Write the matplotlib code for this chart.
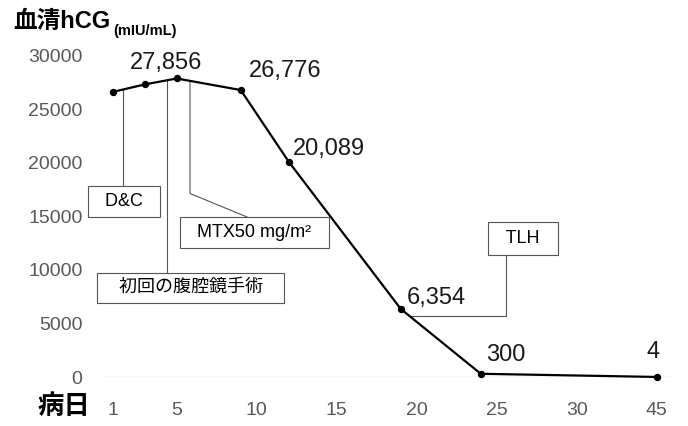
import numpy as np
import matplotlib.pyplot as plt

plt.rcParams['font.family'] = ['Liberation Sans', 'Noto Sans CJK JP', 'DejaVu Sans']

# hCG course; day 45 is drawn at position 35 on the axis
days = [1, 3, 5, 9, 12, 19, 24, 45]
hcg = [26600, 27300, 27856, 26776, 20089, 6354, 300, 4]
xpos = [1, 3, 5, 9, 12, 19, 24, 35]

tick_pos = [1, 5, 10, 15, 20, 25, 30, 35]
tick_labels = ['1', '5', '10', '15', '20', '25', '30', '45']

# labelled points
label_idx = [2, 3, 4, 5, 6, 7]
label_txt = ['27,856', '26,776', '20,089', '6,354', '300', '4']

# events marked on the curve
ev_text = ['D&C', '初回の腹腔鏡手術', 'MTX50 mg/m²', 'TLH']
ev_day = [1.64, 4.39, 5.83, 19.58]

fig = plt.figure(figsize=(6.88, 4.26), dpi=100)
ax = fig.add_axes([106/688, 1-377/426, 569/688, 321.5/426])
ax.set_xlim(0.58, 36.14)
ax.set_ylim(0, 30000)
for s in ax.spines.values():
    s.set_visible(False)
ax.axhline(0, color='#d9d9d9', lw=1, zorder=0)

ax.plot(xpos, hcg, color='black', lw=1.6, marker='o', ms=4.3, clip_on=False, zorder=3)

offs = [(-7.7, 3.4), (6, 5.8), (3, 1.4), (4, 0), (4, 5.8), (-3, 10)]
has = ['center', 'left', 'left', 'left', 'left', 'center']
for i, t, off, ha in zip(label_idx, label_txt, offs, has):
    ax.annotate(t, (xpos[i], hcg[i]), xytext=off, textcoords='offset points',
                ha=ha, va='bottom', fontsize=17, color='#1a1a1a')

ax.set_yticks(range(0, 30001, 5000))
ax.set_xticks(tick_pos)
ax.set_xticklabels(tick_labels)
ax.tick_params(axis='both', length=0, labelsize=14, labelcolor='#595959')
ax.tick_params(axis='y', pad=17)
ax.tick_params(axis='x', pad=18)

lc = '#555555'
lw = 0.8


def box(p):
    return dict(boxstyle='square,pad=%s' % p, fc='white', ec='#555555', lw=0.8)


# D&C
y0 = np.interp(ev_day[0], xpos, hcg)
ax.plot([ev_day[0]] * 2, [y0, 17776], color=lc, lw=lw, zorder=2)
ax.text(1.71, 16399, '  ' + ev_text[0] + '  ', ha='center', va='center', fontsize=13, bbox=box(0.4))

# first laparoscopy
y0 = np.interp(ev_day[1], xpos, hcg)
ax.plot([ev_day[1]] * 2, [y0, 9679], color=lc, lw=lw, zorder=2)
ax.text(5.88, 8330, '   ' + ev_text[1] + '   ', ha='center', va='center', fontsize=13, bbox=box(0.35))

# MTX
y0 = np.interp(ev_day[2], xpos, hcg)
ax.plot([ev_day[2], ev_day[2], 9.46], [y0, 17125, 14891], color=lc, lw=lw, zorder=2)
ax.text(9.86, 13495, '  ' + ev_text[2] + '  ', ha='center', va='center', fontsize=13, bbox=box(0.4))

# TLH
y0 = np.interp(ev_day[3], xpos, hcg)
ax.plot([ev_day[3], 25.58, 25.58], [y0, y0, 11448], color=lc, lw=lw, zorder=2)
ax.text(26.64, 12890, '  ' + ev_text[3] + '  ', ha='center', va='center', fontsize=13, bbox=box(0.45))

fig.text(13/688, 1-22/426, '血清hCG', fontsize=17, fontweight='bold', va='center', ha='left')
fig.text(113/688, 1-31/426, '(mIU/mL)', fontsize=10.5, fontweight='bold', va='center', ha='left')
fig.text(63.5/688, 1-407/426, '病日', fontsize=19, fontweight='bold', va='center', ha='center')

fig.savefig('out.png', dpi=100)
